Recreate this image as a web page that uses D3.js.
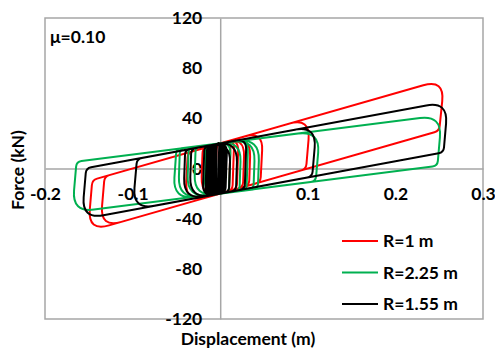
<!DOCTYPE html>
<html>
<head>
<meta charset="utf-8">
<script src="https://cdn.jsdelivr.net/npm/d3@7"></script>
<style>
  html, body { margin: 0; padding: 0; background: #fff; }
  svg { display: block; }
  text { font-family: Lato, "Open Sans", sans-serif; font-weight: 700; fill: #000; }
</style>
</head>
<body>
<svg id="chart" width="495" height="350"></svg>
<script>
// Hysteresis paths: start point, then alternating [reversal peak], [end of stick / start of sliding]
// Displacement in m, force in kN.
const redLoop = [
  [0, -2], [0.002, 20.4],
  [0.049, 29.8], [0.046, -10.8],
  [-0.040, -28.0], [-0.037, 12.6],
  [0.103, 40.6], [0.098, -0.4],
  [-0.137, -47.4], [-0.132, -6.4],
  [0.256, 71.2], [0.250, 30.0],
  [-0.151, -50.2], [-0.146, -9.2],
  [0.035, 27.0], [0.033, -13.4],
  [-0.022, -24.4], [-0.020, 16.0],
  [0.028, 25.6], [0.026, -14.8],
  [-0.012, -22.4], [-0.010, 18.0],
  [0.021, 24.2], [0.019, -16.2],
  [-0.006, -21.2], [-0.004, 19.2],
  [0.016, 23.2], [0.014, -17.2],
  [-0.002, -20.4], [0.000, 20.0],
  [0.012, 22.4], [0.010, -18.0],
  [0.004, -19.2]
];

const greenLoop = [
  [0, -2], [0.002, 20.2],
  [0.032, 22.8], [0.030, -17.3],
  [-0.038, -23.4], [-0.036, 16.8],
  [0.114, 30.1], [0.109, -10.3],
  [-0.054, -24.8], [-0.050, 15.6],
  [0.253, 42.5], [0.248, 2.1],
  [-0.169, -35.0], [-0.164, 5.4],
  [0.045, 24.0], [0.043, -16.2],
  [-0.048, -24.3], [-0.046, 15.9],
  [0.040, 23.6], [0.038, -16.6],
  [-0.030, -22.7], [-0.028, 17.5],
  [0.024, 22.1], [0.022, -18.0],
  [-0.018, -21.6], [-0.016, 18.6],
  [0.012, 21.1], [0.010, -19.1],
  [-0.010, -20.9], [-0.008, 19.3],
  [0.002, 20.2]
];

const blackLoop = [
  [0, -2], [0.002, 20.3],
  [0.030, 23.9], [0.028, -16.4],
  [-0.035, -24.5], [-0.033, 15.7],
  [0.110, 34.2], [0.105, -6.5],
  [-0.100, -32.9], [-0.095, 7.7],
  [0.260, 53.5], [0.255, 12.9],
  [-0.158, -40.4], [-0.153, 0.3],
  [0.020, 22.6], [0.018, -17.7],
  [-0.042, -25.4], [-0.040, 14.8],
  [0.012, 21.5], [0.010, -18.7],
  [-0.020, -22.6], [-0.018, 17.7],
  [0.008, 21.0], [0.006, -19.2],
  [-0.017, -22.2], [-0.015, 18.1],
  [0.006, 20.8], [0.004, -19.5],
  [-0.015, -21.9], [-0.013, 18.3],
  [0.004, 20.5], [0.002, -19.7],
  [-0.013, -21.7], [-0.011, 18.6],
  [0.002, 20.3], [0.000, -20.0],
  [-0.011, -21.4], [-0.009, 18.8],
  [0.001, 20.1], [-0.001, -20.1],
  [-0.009, -21.2], [-0.007, 19.1],
  [0.000, 20.0], [-0.002, -20.3],
  [-0.007, -20.9], [-0.005, 19.4],
  [-0.001, 19.9], [-0.003, -20.4],
  [-0.005, -20.6], [-0.004, 19.5]
];

const seriesNames = ["R=1 m", "R=2.25 m", "R=1.55 m"];
const seriesColors = ["#ff0000", "#00b050", "#000000"];
const seriesData = [redLoop, greenLoop, blackLoop];

const xTicks = [-0.2, -0.1, 0.1, 0.2, 0.3];
const yTicks = [-120, -80, -40, 0, 40, 80, 120];
const xDomain = [-0.2, 0.3];
const yDomain = [-120, 120];

const svg = d3.select("#chart");
const plot = { left: 45, right: 483, top: 18, bottom: 319 };
const fontSize = "17.5px";

const x = d3.scaleLinear().domain(xDomain).range([plot.left, plot.right]);
const y = d3.scaleLinear().domain(yDomain).range([plot.bottom, plot.top]);

const gridGray = "#a6a6a6";

// plot frame
svg.append("rect")
  .attr("x", plot.left).attr("y", plot.top)
  .attr("width", plot.right - plot.left).attr("height", plot.bottom - plot.top)
  .attr("fill", "none").attr("stroke", gridGray).attr("stroke-width", 1.5);

// axes crossing at the origin, plain hyphen for negatives
const yAxis = d3.axisLeft(y).tickValues(yTicks).tickSize(0).tickPadding(18)
  .tickFormat(d => String(d));
const xAxis = d3.axisBottom(x).tickValues(xTicks).tickSize(0).tickPadding(19)
  .tickFormat(d => d.toFixed(1));

const gy = svg.append("g").attr("transform", `translate(${x(0)},0)`).call(yAxis);
const gx = svg.append("g").attr("transform", `translate(0,${y(0)})`).call(xAxis);
[gx, gy].forEach(g => {
  g.select(".domain").attr("stroke", gridGray).attr("stroke-width", 1.5);
  g.selectAll("text").style("font-size", fontSize).style("font-family", "Lato, sans-serif").style("font-weight", 700);
});

// rounded-corner polyline through the hysteresis vertices
function loopPath(pts) {
  const p = pts.map(d => [x(d[0]), y(d[1])]);
  const path = d3.path();
  path.moveTo(p[0][0], p[0][1]);
  for (let i = 1; i < p.length - 1; i++) {
    const a = p[i - 1], v = p[i], b = p[i + 1];
    const la = Math.hypot(v[0] - a[0], v[1] - a[1]);
    const lb = Math.hypot(b[0] - v[0], b[1] - v[1]);
    const base = (i % 2 === 1) ? 5 : 22;
    const r = Math.min(base, 0.45 * la, 0.45 * lb);
    const pin = [v[0] - r * (v[0] - a[0]) / la, v[1] - r * (v[1] - a[1]) / la];
    const pout = [v[0] + r * (b[0] - v[0]) / lb, v[1] + r * (b[1] - v[1]) / lb];
    path.lineTo(pin[0], pin[1]);
    path.quadraticCurveTo(v[0], v[1], pout[0], pout[1]);
  }
  const last = p[p.length - 1];
  path.lineTo(last[0], last[1]);
  return path.toString();
}

svg.append("g").selectAll("path")
  .data(seriesData)
  .join("path")
  .attr("d", loopPath)
  .attr("fill", "none")
  .attr("stroke", (d, i) => seriesColors[i])
  .attr("stroke-width", 2)
  .attr("stroke-linejoin", "round");

// axis titles
svg.append("text")
  .attr("x", 248).attr("y", 345)
  .attr("text-anchor", "middle")
  .style("font-size", fontSize)
  .text("Displacement (m)");

svg.append("text")
  .attr("transform", "translate(24,170) rotate(-90)")
  .attr("text-anchor", "middle")
  .style("font-size", fontSize)
  .text("Force (kN)");

// friction coefficient note
svg.append("text")
  .attr("x", 50).attr("y", 43)
  .style("font-size", fontSize)
  .text("μ=0.10");

// legend
const legend = svg.append("g").selectAll("g")
  .data(seriesNames)
  .join("g")
  .attr("transform", (d, i) => `translate(342,${241 + i * 31.5})`);
legend.append("line")
  .attr("x1", 0).attr("x2", 36).attr("y1", 0).attr("y2", 0)
  .attr("stroke", (d, i) => seriesColors[i]).attr("stroke-width", 2);
legend.append("text")
  .attr("x", 41).attr("y", 0).attr("dy", "0.35em")
  .style("font-size", fontSize)
  .text(d => d);
</script>
</body>
</html>
